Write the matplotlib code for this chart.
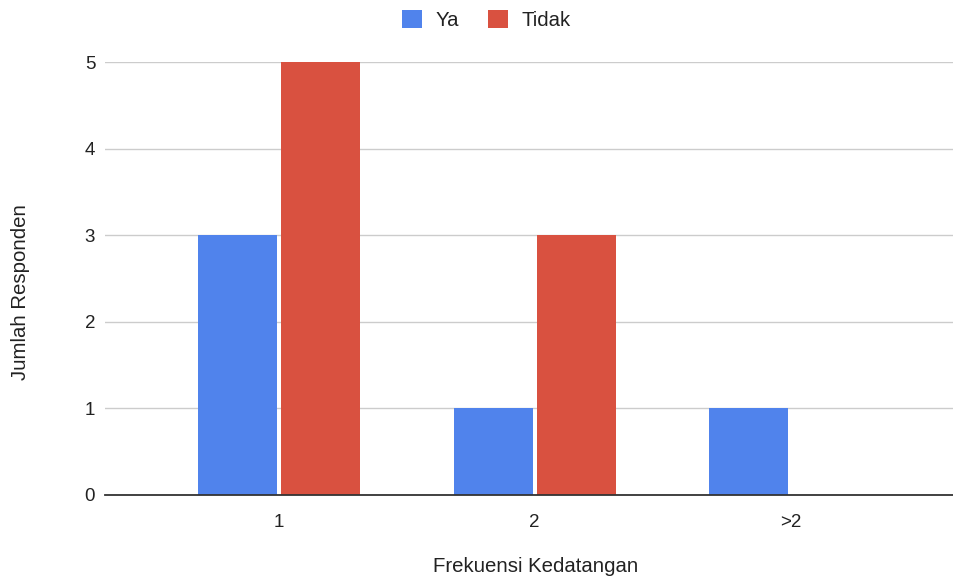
import matplotlib
matplotlib.use("Agg")
import matplotlib.pyplot as plt
import numpy as np
from matplotlib.patches import Patch

categories = ["1", "2", ">2"]
ya = [3, 1, 1]
tidak = [5, 3, 0]
series_names = ["Ya", "Tidak"]
yticks = [0, 1, 2, 3, 4, 5]

plt.rcParams['font.family'] = ['Liberation Sans', 'DejaVu Sans']

fig = plt.figure(figsize=(9.54, 5.78), dpi=100)
ax = fig.add_axes([0.110, 0.1436, 0.890, 0.7491])

blue = "#5083EC"
red = "#D95140"
txt = "#222222"
fs = 13.5
fl = 14.7
x = np.arange(len(categories))
w = 0.309
off = 0.1625
ax.bar(x - off, ya, width=w, color=blue, zorder=3)
ax.bar(x + off, tidak, width=w, color=red, zorder=3)

ax.set_xlim(-0.68, 2.64)
ax.set_ylim(0, 5)
ax.set_yticks(yticks)
ax.set_yticklabels([str(t) for t in yticks])
ax.set_xticks(x)
ax.set_xticklabels(categories)
ax.grid(axis='y', color="#cccccc", linewidth=1, zorder=0)
ax.set_axisbelow(True)
for s in ['top', 'right', 'left']:
    ax.spines[s].set_visible(False)
ax.spines['bottom'].set_color("#333333")
ax.spines['bottom'].set_linewidth(1.3)
ax.spines['bottom'].set_zorder(4)
ax.tick_params(axis='both', length=0, labelsize=fs, colors=txt)
ax.tick_params(axis='y', pad=7)
ax.tick_params(axis='x', pad=14)

ax.set_xlabel("Frekuensi Kedatangan", fontsize=fl, color=txt)
ax.xaxis.set_label_coords(0.507, -0.164)
ax.xaxis.label.set_va('center')
ax.set_ylabel("Jumlah Responden", fontsize=fl, color=txt)
ax.yaxis.set_label_coords(-0.100, 0.469)
ax.yaxis.label.set_va('center')

handles = [Patch(facecolor=blue), Patch(facecolor=red)]
fig.legend(handles, series_names, loc='center', bbox_to_anchor=(0.51, 0.965), ncol=2,
           frameon=False, fontsize=fl, handlelength=0.98, handleheight=0.98,
           columnspacing=1.4, handletextpad=0.68, labelcolor=txt)

fig.savefig("out.png", dpi=100)
